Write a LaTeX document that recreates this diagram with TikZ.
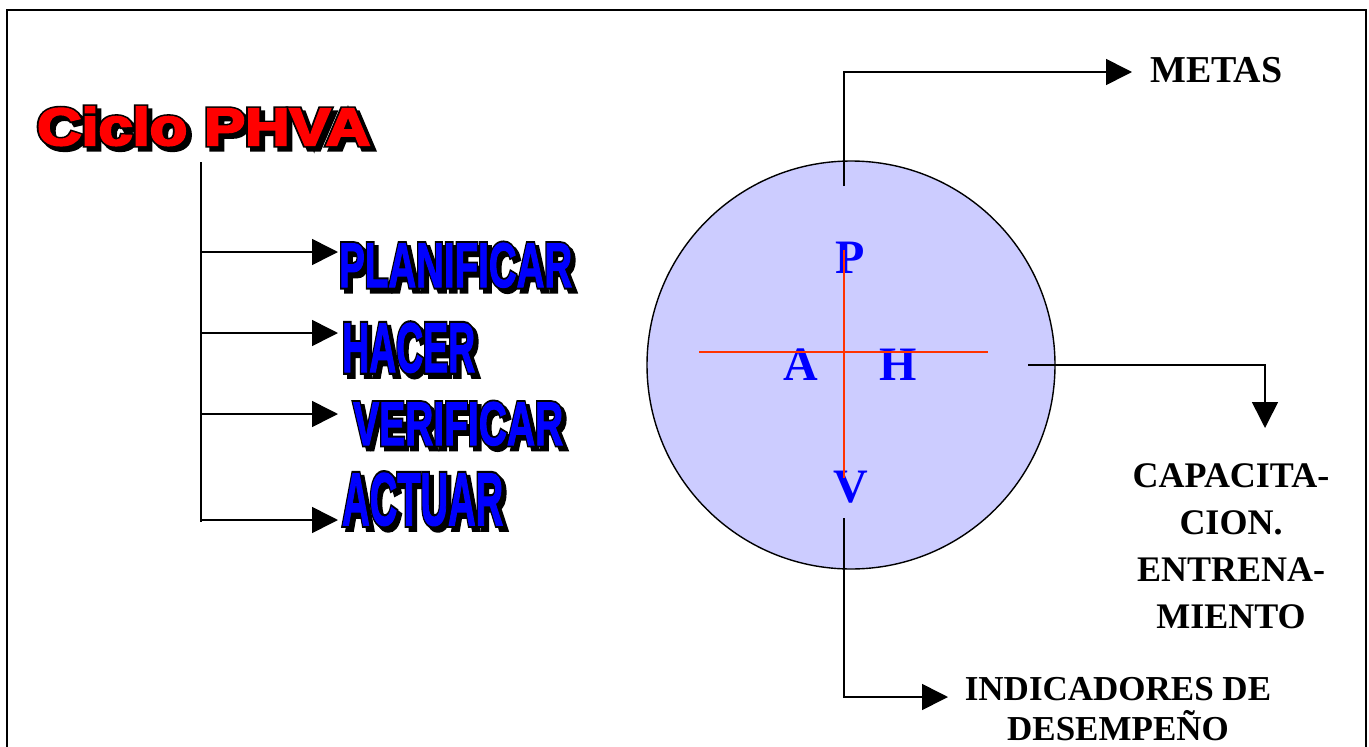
\documentclass[tikz,border=0pt]{standalone}
\usepackage{graphicx}
\usepackage{fontspec}
\setmainfont{Liberation Serif}
\newfontfamily\hfa[FakeBold=2]{Liberation Sans Bold}
\newfontfamily\hfb[FakeBold=8]{Liberation Sans Bold}
\newfontfamily\hfc[FakeBold=4]{Liberation Sans Bold}
\newfontfamily\hfd[FakeBold=10]{Liberation Sans Bold}
\usetikzlibrary{arrows.meta}
\definecolor{cfill}{RGB}{204,204,255}
\definecolor{crossred}{RGB}{255,51,0}
\definecolor{pblue}{RGB}{0,0,255}
\definecolor{pred}{RGB}{255,0,0}
\newcommand\wb[4]{\resizebox{#1pt}{#2pt}{#3\fontsize{60}{60}\selectfont #4}}
% #1 colour, #2 width, #3 height, #4 inner font, #5 outline font, #6 text
\newcommand\heavytxt[6]{\leavevmode
 \rlap{\kern4pt\raisebox{-4pt}{\color{black}\wb{#2}{#3}{#5}{#6}}}%
 \rlap{\color{black}\wb{#2}{#3}{#5}{#6}}%
 {\color{#1}\wb{#2}{#3}{#4}{#6}}}
\begin{document}
\begin{tikzpicture}[x=1pt,y=-1pt,
  conn/.style={line width=1.6pt},
  arr/.style={conn,-{Triangle[length=26pt,width=26pt]}},
  lbl/.style={font=\bfseries\fontsize{36}{47}\selectfont,inner sep=0pt,align=center},
  lbltwo/.style={font=\bfseries\fontsize{35}{40}\selectfont,inner sep=0pt,align=center},
  letter/.style={font=\bfseries\fontsize{48}{48}\selectfont,text=pblue,inner sep=0pt,anchor=base},
  word/.style={inner sep=0pt,anchor=base west}]
\useasboundingbox (0,0) rectangle (1369,747);
\draw[line width=2pt] (7,747) -- (7,10) -- (1366,10) -- (1366,747);

% title
\node[word] (title) at (37,145) {\heavytxt{pred}{333}{38}{\hfc}{\hfd}{Ciclo PHVA}};

% tree
\coordinate (tt) at (201,162);
\coordinate (tb) at (201,522);
\draw[conn] (tt) -- (tb);
\node[word] (plan) at (339,287) {\heavytxt{pblue}{233}{44}{\hfa}{\hfb}{PLANIFICAR}};
\node[word] (hacer) at (342,372) {\heavytxt{pblue}{133}{49}{\hfa}{\hfb}{HACER}};
\node[word] (verif) at (353,445) {\heavytxt{pblue}{210}{43}{\hfa}{\hfb}{VERIFICAR}};
\node[word] (actuar) at (342,525) {\heavytxt{pblue}{161}{52}{\hfa}{\hfb}{ACTUAR}};
\coordinate (b1) at (201,252); \coordinate (e1) at (338,252);
\coordinate (b2) at (201,333); \coordinate (e2) at (338,333);
\coordinate (b3) at (201,414); \coordinate (e3) at (338,414);
\coordinate (b4) at (201,520); \coordinate (e4) at (338,520);
\draw[arr] (b1) -- (e1);
\draw[arr] (b2) -- (e2);
\draw[arr] (b3) -- (e3);
\draw[arr] (b4) -- (e4);

% circle
\node[circle,draw,fill=cfill,line width=1.4pt,minimum size=408pt,inner sep=0pt] (circ) at (851,365) {};
\node[letter] (P) at (850,273) {P};
\node[letter] (A) at (801,380) {A};
\node[letter] (H) at (898,380) {H};
\node[letter] (V) at (851,502) {V};
\coordinate (ct) at (844,250); \coordinate (cb) at (844,478);
\coordinate (cl) at (699,352); \coordinate (cr) at (988,352);
\draw[crossred,line width=1.5pt] (ct) -- (cb) (cl) -- (cr);

% METAS
\node[lbl,font=\bfseries\fontsize{38}{40}\selectfont,anchor=base west] (metas) at (1150,82) {METAS};
\coordinate (ms) at (844,186); \coordinate (me) at (1132,72);
\draw[arr] (ms) |- (me);

% CAPACITACION
\node[lbl,anchor=north] (capa) at (1231,463) {CAPACITA-\\CION.\\ENTRENA-\\MIENTO};
\coordinate (cs) at (1028,365); \coordinate (ce) at (1265,428);
\draw[arr] (cs) -| (ce);

% INDICADORES
\node[lbltwo,anchor=north] (ind) at (1118,677) {INDICADORES DE\\DESEMPEÑO};
\coordinate (is) at (844,518); \coordinate (ie) at (948,697);
\draw[arr] (is) |- (ie);
\end{tikzpicture}
\end{document}
